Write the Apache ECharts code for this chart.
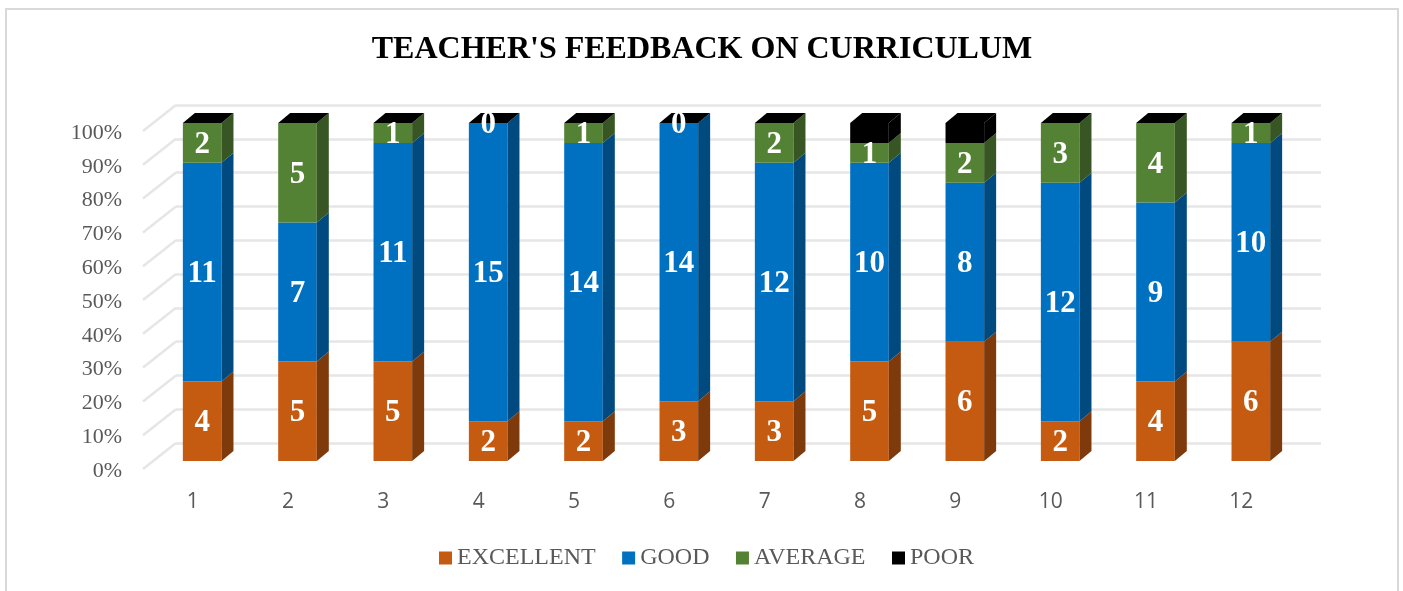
<!DOCTYPE html>
<html>
<head>
<meta charset="utf-8">
<style>html,body{margin:0;padding:0;background:#fff}#c{width:1403px;height:591px}</style>
<script src="https://cdn.jsdelivr.net/npm/echarts@6/dist/echarts.min.js"></script>
</head>
<body>
<div id="c"></div>
<script>
const categories = ['1','2','3','4','5','6','7','8','9','10','11','12'];
const excellent = [4,5,5,2,2,3,3,5,6,2,4,6];
const good      = [11,7,11,15,14,14,12,10,8,12,9,10];
const average   = [2,5,1,0,1,0,2,1,2,3,4,1];
const poor      = [0,0,0,0,0,0,0,1,1,0,0,0];
const wallTicks = [0,10,20,30,40,50,60,70,80,90,100];
const seriesNames = ['EXCELLENT','GOOD','AVERAGE','POOR'];

const serif = '"Liberation Serif","Times New Roman",serif';
const sans = '"Open Sans","Noto Sans",sans-serif';
const inkAxis = '#595959';
const gridInk = '#e6e6e6';
const faceColors = ['#C55A11','#0070C0','#548235','#000000'];
const sideColors = ['#7F3A0B','#004A80','#375623','#000000'];
const allValues = [excellent, good, average, poor];

function segments(k){
  return categories.map((c,i)=>{
    const total = allValues.reduce((s,a)=>s+a[i],0);
    let before = 0;
    for(let j=0;j<k;j++) before += allValues[j][i];
    const v = allValues[k][i];
    return [i, before/total*100, (before+v)/total*100, v];
  });
}

const BAR_RATIO = 0.405, FX = 9.5, FY = -8, DX = 12, DY = -10;
function makeRender(k){
  return function(params, api){
    const i = api.value(0);
    const a = api.coord([i, api.value(1)]);
    const b = api.coord([i, api.value(2)]);
    const w = api.size([1,0])[0]*BAR_RATIO;
    const l = a[0]+FX-w/2, r = l+w, y0 = a[1]+FY, y1 = b[1]+FY;
    const children = [
      {type:'rect', shape:{x:l,y:y1,width:w,height:y0-y1}, style:{fill:faceColors[k]}},
      {type:'polygon', shape:{points:[[r,y0],[r+DX,y0+DY],[r+DX,y1+DY],[r,y1]]}, style:{fill:sideColors[k]}}
    ];
    if(k===3){
      children.push({type:'polygon', shape:{points:[[l,y1],[r,y1],[r+DX,y1+DY],[l+DX,y1+DY]]}, style:{fill:'#000'}});
    } else {
      children.push({type:'text', z2:100, style:{
        text:String(api.value(3)), x:l+w/2, y:(y0+y1)/2+2,
        align:'center', verticalAlign:'middle',
        font:'bold 31px '+serif, fill:'#fff'
      }});
    }
    return {type:'group', children};
  };
}

const barSeries = seriesNames.map((name,k)=>({
  name, type:'custom', xAxisIndex:0, yAxisIndex:0,
  clip:false, silent:true, z:3,
  itemStyle:{color:faceColors[k]},
  encode:{x:0,y:[1,2]},
  data:segments(k),
  renderItem:makeRender(k)
}));

const diagonals = {
  type:'custom', xAxisIndex:0, yAxisIndex:0, clip:false, silent:true, z:1,
  data:wallTicks.map(t=>[0,t]),
  encode:{x:0,y:1},
  renderItem(params, api){
    const p = api.coord([0, api.value(1)]);
    const x = params.coordSys.x;
    return {type:'line', shape:{x1:x-2,y1:p[1],x2:x+31,y2:p[1]-26},
            style:{stroke:gridInk,lineWidth:2.5,fill:null}};
  }
};

const chart = echarts.init(document.getElementById('c'));
chart.setOption({
  animation:false,
  backgroundColor:'#fff',
  title:{text:"TEACHER'S FEEDBACK ON CURRICULUM", left:697, top:29, textAlign:'center',
    textStyle:{fontFamily:serif,fontWeight:'bold',fontSize:32,color:'#000'}},
  legend:{data:seriesNames,left:439,top:546,padding:0,itemWidth:13,itemHeight:13,itemGap:26.5,
    icon:'rect',textStyle:{fontFamily:serif,fontSize:24,color:inkAxis}},
  grid:[
    {left:145,top:131,width:1144,height:338},
    {left:176,top:105,width:1145,height:338},
    {left:145,top:133,width:1144,height:338}
  ],
  xAxis:[
    {type:'category',gridIndex:0,data:categories,axisLine:{show:false},axisTick:{show:false},
     splitLine:{show:false},
     axisLabel:{margin:23,fontFamily:sans,fontSize:21,color:inkAxis}},
    {type:'category',gridIndex:1,data:categories,show:false},
    {type:'category',gridIndex:2,data:categories,show:false}
  ],
  yAxis:[
    {type:'value',gridIndex:0,min:0,max:100,interval:10,axisLine:{show:false},axisTick:{show:false},
     splitLine:{show:false},axisLabel:{show:false}},
    {type:'value',gridIndex:1,min:0,max:100,interval:10,axisLine:{show:false},axisTick:{show:false},
     axisLabel:{show:false},
     splitLine:{show:true,lineStyle:{color:gridInk,width:2.5}}},
    {type:'value',gridIndex:2,min:0,max:100,interval:10,axisLine:{show:false},axisTick:{show:false},
     splitLine:{show:false},
     axisLabel:{margin:23,formatter:'{value}%',fontFamily:serif,fontSize:22,color:inkAxis}}
  ],
  graphic:[{type:'rect',silent:true,z:0,shape:{x:6,y:9,width:1392,height:620},
    style:{fill:null,stroke:'#d9d9d9',lineWidth:2}}],
  series:[diagonals].concat(barSeries)
});
</script>
</body>
</html>
